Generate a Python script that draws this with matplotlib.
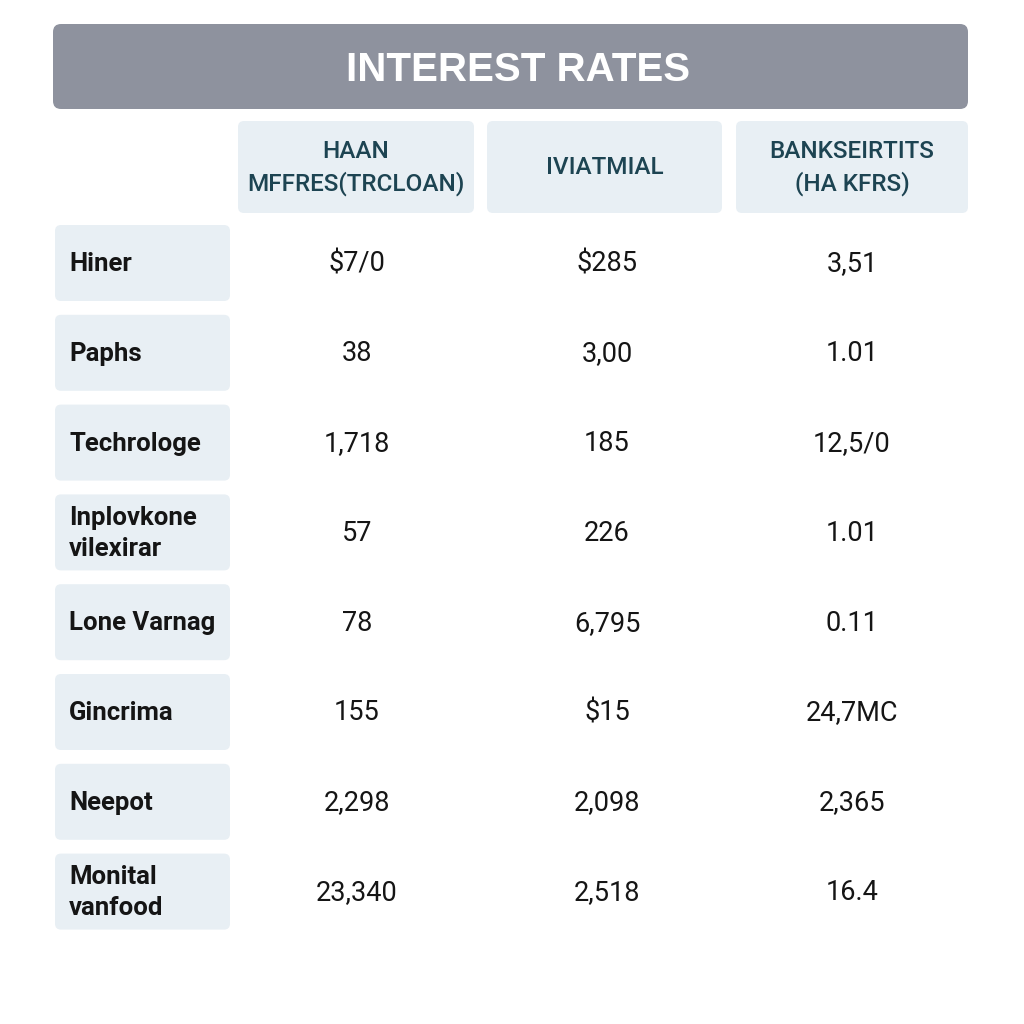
"""Interest rates table recreated with matplotlib patches and text."""

import matplotlib.pyplot as plt
from matplotlib.patches import FancyBboxPatch

TITLE = "INTEREST RATES"
COLUMNS = ["HAAN\nMFFRES(TRCLOAN)", "IVIATMIAL", "BANKSEIRTITS\n(HA KFRS)"]
ROWS = [
    "Hiner",
    "Paphs",
    "Techrologe",
    "Inplovkone\nvilexirar",
    "Lone Varnag",
    "Gincrima",
    "Neepot",
    "Monital\nvanfood",
]
COL1 = ["$7/0", "38", "1,718", "57", "78", "155", "2,298", "23,340"]
COL2 = ["$285", "3,00", "185", "226", "6,795", "$15", "2,098", "2,518"]
COL3 = ["3,51", "1.01", "12,5/0", "1.01", "0.11", "24,7MC", "2,365", "16.4"]

FAMILY = ["Roboto", "DejaVu Sans"]
CELL_BG = "#e8eff4"
HEAD_TXT = "#1d4452"

fig = plt.figure(figsize=(10.24, 10.24), dpi=100)
ax = fig.add_axes([0, 0, 1, 1])
ax.set_xlim(0, 1024)
ax.set_ylim(1024, 0)
ax.axis("off")


def box(x0, y0, x1, y1, color, pad=6):
    ax.add_patch(FancyBboxPatch(
        (x0 + pad, y0 + pad), x1 - x0 - 2 * pad, y1 - y0 - 2 * pad,
        boxstyle=f"round,pad={pad}", facecolor=color, edgecolor="none",
    ))


# title bar
box(53, 24, 968, 109, "#8e929e", pad=8)
ax.text(518, 70, TITLE, ha="center", va="center", color="white",
        fontsize=29, fontweight="bold", family=["Liberation Sans", "DejaVu Sans"])

# header cells
head_x = [(238, 474), (487, 722), (736, 968)]
for (x0, x1), label in zip(head_x, COLUMNS):
    box(x0, 121, x1, 213, CELL_BG)
    ax.text((x0 + x1) / 2, 168, label, ha="center", va="center", color=HEAD_TXT,
            fontsize=17.5, fontweight="medium", linespacing=1.4, family=FAMILY)

# body rows
row_top = 225
row_pitch = 89.8
val_x = [357, 607, 852]
for i, label in enumerate(ROWS):
    y0 = row_top + i * row_pitch
    y1 = y0 + 76
    yc = (y0 + y1) / 2
    box(55, y0, 230, y1, CELL_BG)
    ax.text(69, yc + 1, label, ha="left", va="center", color="#151515",
            fontsize=18.5, fontweight="semibold", linespacing=1.4, family=FAMILY)
    for x, col in zip(val_x, [COL1, COL2, COL3]):
        ax.text(x, yc + 1, col[i], ha="center", va="center", color="#151515",
                fontsize=19.5, family=FAMILY)

plt.savefig("out.png", dpi=100, facecolor="white")
plt.close()
